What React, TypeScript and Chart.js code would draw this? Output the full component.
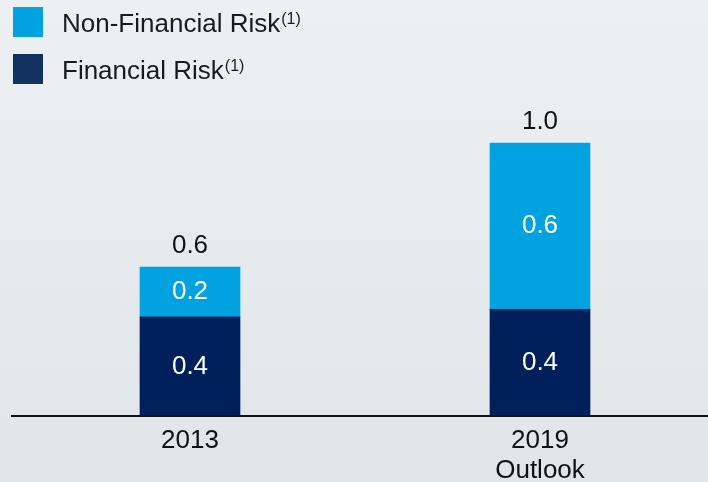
import React, { useEffect, useRef } from "react";
import { Chart, registerables } from "chart.js";

Chart.register(...registerables);

const categories: (string | string[])[] = ["2013", ["2019", "Outlook"]];
const financialValues = [0.4, 0.43];
const nonFinancialValues = [0.2, 0.67];
const financialLabels = ["0.4", "0.4"];
const nonFinancialLabels = ["0.2", "0.6"];
const totalLabels = ["0.6", "1.0"];
const legendNames = ["Non-Financial Risk", "Financial Risk"];
const legendNote = "(1)";

const DARK = "#00205b";
const LEGEND_DARK = "#12315f";
const LIGHT = "#00a3e0";
const FONT = "'Liberation Sans', Arial, sans-serif";

const labelPlugin = {
  id: "segLabels",
  afterDatasetsDraw(chart: any) {
    const ctx = chart.ctx;
    ctx.save();
    ctx.textAlign = "center";
    ctx.textBaseline = "middle";
    ctx.font = `26px ${FONT}`;
    const segLabels = [financialLabels, nonFinancialLabels];
    chart.data.datasets.forEach((_: any, di: number) => {
      const meta = chart.getDatasetMeta(di);
      meta.data.forEach((el: any, i: number) => {
        ctx.fillStyle = "#ffffff";
        ctx.fillText(segLabels[di][i], el.x, (el.y + el.base) / 2);
        if (di === chart.data.datasets.length - 1) {
          ctx.fillStyle = "#111111";
          ctx.fillText(totalLabels[i], el.x, el.y - 21);
        }
      });
    });
    ctx.restore();
  },
};

const axisPlugin = {
  id: "axisLine",
  afterDatasetsDraw(chart: any) {
    const ctx = chart.ctx;
    const y = chart.chartArea.bottom;
    ctx.save();
    ctx.strokeStyle = "#111111";
    ctx.lineWidth = 2;
    ctx.beginPath();
    ctx.moveTo(11, y);
    ctx.lineTo(chart.width, y);
    ctx.stroke();
    ctx.restore();
  },
};

const legendPlugin = {
  id: "customLegend",
  afterDraw(chart: any) {
    const ctx = chart.ctx;
    ctx.save();
    const rows = [
      { color: LIGHT, text: legendNames[0], y: 7 },
      { color: LEGEND_DARK, text: legendNames[1], y: 54 },
    ];
    rows.forEach((r) => {
      ctx.fillStyle = r.color;
      ctx.fillRect(13, r.y, 30, 30);
      ctx.fillStyle = "#1a1a1a";
      ctx.textAlign = "left";
      ctx.textBaseline = "alphabetic";
      ctx.font = `26px ${FONT}`;
      ctx.fillText(r.text, 62, r.y + 25);
      const w = ctx.measureText(r.text).width;
      ctx.font = `16px ${FONT}`;
      ctx.fillText(legendNote, 62 + w + 1, r.y + 17);
    });
    ctx.restore();
  },
};

export default function App() {
  const ref = useRef<HTMLCanvasElement>(null);
  useEffect(() => {
    document.body.style.margin = "0";
    const chart = new Chart(ref.current!, {
      type: "bar",
      data: {
        labels: categories,
        datasets: [
          { label: legendNames[1], data: financialValues, backgroundColor: DARK, barThickness: 100 },
          { label: legendNames[0], data: nonFinancialValues, backgroundColor: LIGHT, barThickness: 100 },
        ],
      },
      options: {
        responsive: false,
        animation: false,
        layout: { padding: { left: 15, right: 5, top: 19, bottom: 0 } },
        plugins: { legend: { display: false }, tooltip: { enabled: false } },
        scales: {
          x: {
            stacked: true,
            grid: { display: false, drawTicks: false },
            border: { display: false },
            ticks: {
              color: "#111111",
              padding: 10,
              font: { size: 26, family: FONT, lineHeight: 1.15 },
            },
            afterFit: (scale: any) => {
              scale.height = 66;
            },
          },
          y: {
            stacked: true,
            display: false,
            min: 0,
            max: 1.6,
          },
        },
      },
      plugins: [labelPlugin, axisPlugin, legendPlugin],
    });
    return () => chart.destroy();
  }, []);
  return (
    <div
      style={{
        position: "absolute",
        left: 0,
        top: 0,
        width: 708,
        height: 482,
        overflow: "hidden",
        background: "linear-gradient(180deg, #edf0f3 0%, #e0e5e9 100%)",
      }}
    >
      <canvas ref={ref} width={720} height={482} style={{ display: "block" }} />
    </div>
  );
}
